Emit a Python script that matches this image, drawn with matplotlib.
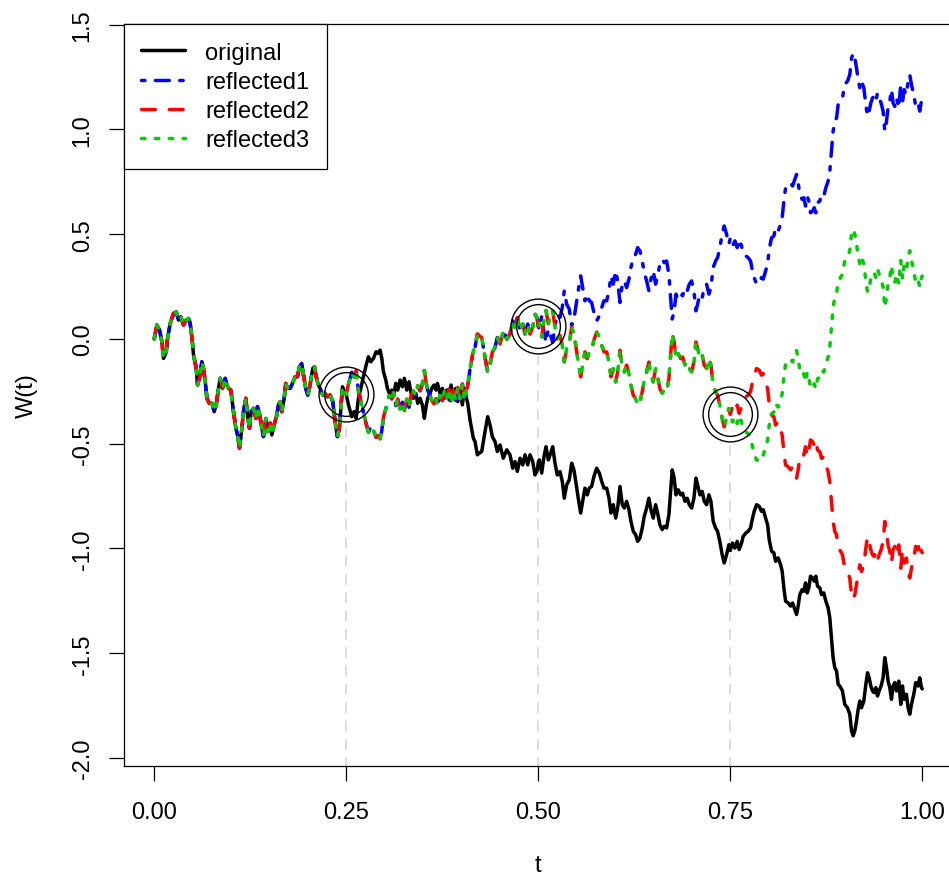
import numpy as np
import matplotlib
matplotlib.use("Agg")
import matplotlib.pyplot as plt

# ---------------- data ----------------
t_vals = [
    0.0, 0.0013, 0.0035, 0.0069, 0.0100, 0.0121, 0.0156, 0.0173, 0.0208, 0.0251,
    0.0286, 0.0316, 0.0347, 0.0381, 0.0416, 0.0447, 0.0468, 0.0490, 0.0512, 0.0547,
    0.0564, 0.0590, 0.0620, 0.0642, 0.0664, 0.0686, 0.0716, 0.0751, 0.0781, 0.0807,
    0.0837, 0.0859, 0.0889, 0.0924, 0.0946, 0.0967, 0.0998, 0.1032, 0.1063, 0.1084,
    0.1110, 0.1141, 0.1162, 0.1193, 0.1214, 0.1240, 0.1262, 0.1292, 0.1323, 0.1344,
    0.1370, 0.1401, 0.1423, 0.1453, 0.1479, 0.1509, 0.1531, 0.1561, 0.1596, 0.1618,
    0.1640, 0.1661, 0.1692, 0.1713, 0.1739, 0.1770, 0.1800, 0.1835, 0.1865, 0.1891,
    0.1921, 0.1943, 0.1973, 0.1999, 0.2021, 0.2043, 0.2064, 0.2086, 0.2108, 0.2138,
    0.2160, 0.2195, 0.2225, 0.2255, 0.2290, 0.2325, 0.2355, 0.2385, 0.2411, 0.2433,
    0.2451, 0.2473, 0.2500,
    0.2529, 0.2572, 0.2602, 0.2628, 0.2659, 0.2690, 0.2724, 0.2759, 0.2789, 0.2820,
    0.2854, 0.2889, 0.2919, 0.2941, 0.2963, 0.2984, 0.3015, 0.3036, 0.3062, 0.3093,
    0.3114, 0.3145, 0.3171, 0.3201, 0.3231, 0.3257, 0.3288, 0.3318, 0.3344, 0.3374,
    0.3405, 0.3431, 0.3461, 0.3491, 0.3517, 0.3539, 0.3561, 0.3591, 0.3613, 0.3643,
    0.3669, 0.3687, 0.3722, 0.3752, 0.3778, 0.3808, 0.3839, 0.3865, 0.3895, 0.3926,
    0.3952, 0.3982, 0.4012, 0.4038, 0.4060, 0.4082,
    0.4112, 0.4155, 0.4177, 0.4207, 0.4233, 0.4264, 0.4307, 0.4342, 0.4372, 0.4402,
    0.4437, 0.4467, 0.4502, 0.4545, 0.4590, 0.4632, 0.4668, 0.4697, 0.4728, 0.4763,
    0.4798, 0.4828, 0.4863, 0.4893, 0.4928, 0.4958, 0.4988, 0.5000,
    0.5014, 0.5045, 0.5075, 0.5101, 0.5131, 0.5162, 0.5188, 0.5218, 0.5248, 0.5283,
    0.5313, 0.5339, 0.5370, 0.5404, 0.5435, 0.5465, 0.5491, 0.5521, 0.5552, 0.5578,
    0.5608, 0.5638, 0.5664, 0.5695, 0.5725, 0.5761, 0.5795, 0.5826, 0.5856, 0.5891,
    0.5921, 0.5947, 0.5977, 0.6008, 0.6034, 0.6064, 0.6094, 0.6120, 0.6151, 0.6181,
    0.6207, 0.6237, 0.6268, 0.6294, 0.6324, 0.6354, 0.6380, 0.6411, 0.6441, 0.6467,
    0.6497, 0.6528, 0.6554, 0.6584, 0.6614, 0.6640, 0.6671, 0.6701, 0.6723, 0.6744,
    0.6770, 0.6793, 0.6822, 0.6854, 0.6880, 0.6910, 0.6940, 0.6966, 0.6997, 0.7027,
    0.7053, 0.7075, 0.7105, 0.7135, 0.7161, 0.7192, 0.7222, 0.7248, 0.7278, 0.7309,
    0.7335, 0.7364, 0.7395, 0.7421, 0.7452, 0.7482, 0.7500,
    0.7530, 0.7560, 0.7590, 0.7616, 0.7647, 0.7668, 0.7703, 0.7733, 0.7764, 0.7785,
    0.7811, 0.7843, 0.7877, 0.7907, 0.7929, 0.7960, 0.7986, 0.8007, 0.8038, 0.8068,
    0.8090, 0.8124, 0.8155, 0.8176, 0.8198, 0.8220, 0.8254, 0.8285, 0.8311, 0.8341,
    0.8363, 0.8384, 0.8406, 0.8436, 0.8458, 0.8480, 0.8502, 0.8523, 0.8545, 0.8571,
    0.8593, 0.8614, 0.8636, 0.8666, 0.8688, 0.8718, 0.8744, 0.8774, 0.8796, 0.8818,
    0.8839, 0.8861, 0.8884, 0.8905, 0.8926, 0.8961, 0.8991, 0.9026, 0.9056, 0.9079,
    0.9100, 0.9122, 0.9144, 0.9165, 0.9187, 0.9209, 0.9239, 0.9265, 0.9287, 0.9308,
    0.9330, 0.9352, 0.9373, 0.9395, 0.9417, 0.9438, 0.9464, 0.9490, 0.9512, 0.9534,
    0.9555, 0.9577, 0.9599, 0.9620, 0.9642, 0.9664, 0.9694, 0.9720, 0.9742, 0.9763,
    0.9794, 0.9815, 0.9837, 0.9859, 0.9889, 0.9915, 0.9945, 0.9967, 0.9989, 1.0000,
]
w_original = [
    0.0, 0.026, 0.066, 0.042, -0.013, -0.093, -0.061, 0.002, 0.074, 0.121,
    0.129, 0.090, 0.106, 0.066, 0.090, 0.098, 0.074, 0.010, -0.077, -0.140,
    -0.220, -0.188, -0.109, -0.140, -0.204, -0.283, -0.307, -0.307, -0.347, -0.315,
    -0.236, -0.188, -0.236, -0.188, -0.220, -0.236, -0.244, -0.347, -0.426, -0.458,
    -0.521, -0.426, -0.347, -0.283, -0.363, -0.426, -0.347, -0.331, -0.379, -0.323,
    -0.355, -0.426, -0.466, -0.379, -0.442, -0.402, -0.458, -0.410, -0.363, -0.315,
    -0.299, -0.347, -0.283, -0.212, -0.236, -0.236, -0.212, -0.180, -0.180, -0.133,
    -0.117, -0.172, -0.236, -0.268, -0.236, -0.188, -0.140, -0.133, -0.180, -0.220,
    -0.236, -0.268, -0.260, -0.276, -0.268, -0.299, -0.394, -0.466, -0.426, -0.315,
    -0.228, -0.252, -0.265,
    -0.315, -0.371, -0.347, -0.379, -0.283, -0.236, -0.180, -0.125, -0.085, -0.109,
    -0.093, -0.061, -0.069, -0.053, -0.093, -0.156, -0.196, -0.236, -0.260, -0.244,
    -0.276, -0.212, -0.244, -0.196, -0.228, -0.188, -0.244, -0.204, -0.260, -0.283,
    -0.260, -0.307, -0.283, -0.315, -0.379, -0.323, -0.283, -0.260, -0.236, -0.220,
    -0.244, -0.212, -0.260, -0.236, -0.283, -0.244, -0.291, -0.220, -0.283, -0.236,
    -0.299, -0.244, -0.315, -0.236, -0.276, -0.307,
    -0.387, -0.474, -0.490, -0.553, -0.545, -0.537, -0.442, -0.371, -0.410, -0.466,
    -0.490, -0.537, -0.506, -0.569, -0.529, -0.553, -0.617, -0.585, -0.632, -0.569,
    -0.601, -0.553, -0.601, -0.553, -0.585, -0.649, -0.625, -0.590,
    -0.577, -0.640, -0.561, -0.514, -0.577, -0.545, -0.514, -0.593, -0.649, -0.633,
    -0.680, -0.760, -0.696, -0.672, -0.593, -0.625, -0.688, -0.760, -0.831, -0.775,
    -0.712, -0.744, -0.712, -0.704, -0.656, -0.617, -0.640, -0.680, -0.712, -0.712,
    -0.760, -0.831, -0.791, -0.855, -0.807, -0.704, -0.791, -0.807, -0.775, -0.815,
    -0.871, -0.918, -0.934, -0.966, -0.950, -0.902, -0.847, -0.807, -0.760, -0.815,
    -0.855, -0.791, -0.831, -0.887, -0.910, -0.894, -0.902, -0.839, -0.728, -0.625,
    -0.664, -0.744, -0.720, -0.744, -0.736, -0.775, -0.760, -0.791, -0.807, -0.760,
    -0.664, -0.696, -0.744, -0.728, -0.775, -0.791, -0.744, -0.775, -0.871, -0.902,
    -0.918, -0.966, -1.030, -1.069, -1.030, -0.982, -1.010,
    -0.974, -0.998, -0.966, -1.005, -0.974, -0.942, -0.926, -0.918, -0.902, -0.863,
    -0.823, -0.791, -0.799, -0.823, -0.815, -0.855, -0.887, -0.958, -1.013, -1.021,
    -1.061, -1.045, -1.077, -1.109, -1.188, -1.251, -1.260, -1.275, -1.260, -1.291,
    -1.315, -1.275, -1.220, -1.196, -1.204, -1.164, -1.212, -1.188, -1.132, -1.140,
    -1.156, -1.132, -1.180, -1.188, -1.220, -1.212, -1.251, -1.283, -1.331, -1.426,
    -1.521, -1.569, -1.585, -1.649, -1.656, -1.680, -1.744, -1.760, -1.791, -1.870,
    -1.894, -1.870, -1.823, -1.768, -1.728, -1.760, -1.728, -1.649, -1.593, -1.617,
    -1.656, -1.680, -1.688, -1.664, -1.704, -1.680, -1.656, -1.617, -1.521, -1.569,
    -1.633, -1.664, -1.720, -1.656, -1.640, -1.680, -1.633, -1.744, -1.656, -1.720,
    -1.696, -1.760, -1.791, -1.744, -1.696, -1.640, -1.656, -1.617, -1.664, -1.670,
]
reflect_times = [0.25, 0.50, 0.75]

series_names = ["original", "reflected1", "reflected2", "reflected3"]
series_colors = ["#000000", "#0000FF", "#FF0000", "#00CD00"]
series_dashes = [None, (1, 3, 4, 3), (4, 4), (1, 3)]

x_ticks = [0.0, 0.25, 0.50, 0.75, 1.0]
x_tick_labels = ["0.00", "0.25", "0.50", "0.75", "1.00"]
y_ticks = [-2.0, -1.5, -1.0, -0.5, 0.0, 0.5, 1.0, 1.5]
y_tick_labels = ["-2.0", "-1.5", "-1.0", "-0.5", "0.0", "0.5", "1.0", "1.5"]

# ---------------- build the reflected paths ----------------
t = np.array(t_vals)
w = np.array(w_original)
paths = [w]
cur = w
reflect_idx = []
for tau in reflect_times:
    i = int(np.argmin(np.abs(t - tau)))
    reflect_idx.append(i)
    new = cur.copy()
    new[i:] = 2 * cur[i] - cur[i:]
    paths.append(new)
    cur = new

# ---------------- figure ----------------
plt.rcParams["font.family"] = ["Liberation Sans", "DejaVu Sans"]
FS = 17

fig = plt.figure(figsize=(9.49, 8.78), dpi=100)
ax = fig.add_axes([123.5 / 949, (878 - 767) / 878, (953 - 123.5) / 949, (767 - 25) / 878])
ax.set_xlim(-0.04, 1.04)
ax.set_ylim(-2.038, 1.503)

LW = 2.5
for k, (name, col, dsh) in enumerate(zip(series_names, series_colors, series_dashes)):
    if dsh is None:
        ax.plot(t, paths[k], color=col, lw=LW, solid_capstyle="round",
                solid_joinstyle="round", label=name, zorder=3 + k)
    else:
        ax.plot(t, paths[k], color=col, lw=LW, linestyle=(0, dsh),
                dash_capstyle="round", dash_joinstyle="round", label=name, zorder=3 + k)

# reflection points: grey guide lines and double circles
for k, (tau, i) in enumerate(zip(reflect_times, reflect_idx)):
    val = paths[k + 1][i]
    ax.plot([tau, tau], [-3.0, val - 0.14], color="#D3D3D3", lw=1.1,
            linestyle=(0, (7, 5)), zorder=2)
    ax.plot([tau], [val], marker="o", ms=39.5, mfc="none", mec="black", mew=1.0,
            linestyle="none", zorder=10)
    ax.plot([tau], [val], marker="o", ms=31.5, mfc="none", mec="black", mew=1.0,
            linestyle="none", zorder=10)

ax.set_xticks(x_ticks)
ax.set_xticklabels(x_tick_labels, fontsize=FS)
ax.set_yticks(y_ticks)
ax.set_yticklabels(y_tick_labels, fontsize=FS, rotation=90, va="center")
ax.tick_params(axis="both", direction="out", length=10.5, width=0.9, color="black")
ax.tick_params(axis="x", pad=15.0)
ax.tick_params(axis="y", pad=11.0)
for sp in ax.spines.values():
    sp.set_linewidth(0.9)
    sp.set_color("black")

ax.set_xlabel("t", fontsize=FS, va="baseline")
ax.set_ylabel("W(t)", fontsize=FS)
ax.xaxis.set_label_coords(0.5, (767 - 872) / 742)
ax.yaxis.set_label_coords((38 - 123.5) / 829.5, 0.5)

leg = ax.legend(loc="upper left", bbox_to_anchor=(0, 1), borderaxespad=0,
                fontsize=FS, frameon=True, fancybox=False, edgecolor="black",
                framealpha=1, borderpad=0.75, labelspacing=0.30,
                handlelength=1.85, handletextpad=0.85)
leg.get_frame().set_linewidth(0.9)
leg.set_zorder(20)

fig.savefig("out.png", dpi=100)
